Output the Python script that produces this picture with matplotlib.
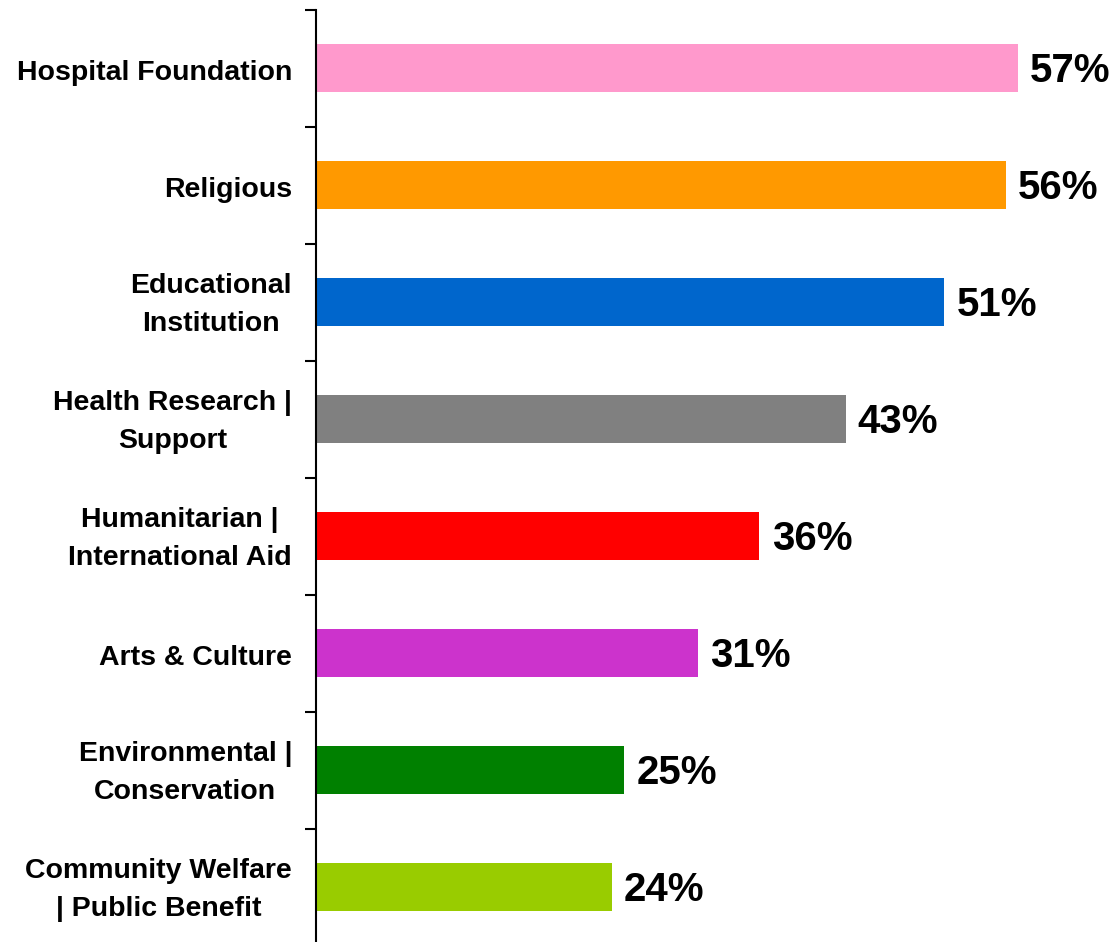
import matplotlib
matplotlib.use('Agg')
import matplotlib.pyplot as plt
import matplotlib.transforms as mtransforms

categories = [
    'Hospital Foundation',
    'Religious',
    'Educational\nInstitution',
    'Health Research |\nSupport',
    'Humanitarian |\nInternational Aid',
    'Arts & Culture',
    'Environmental |\nConservation',
    'Community Welfare\n| Public Benefit',
]
values = [57, 56, 51, 43, 36, 31, 25, 24]
colors = ['#FF99CC', '#FF9900', '#0066CC', '#808080',
          '#FF0000', '#CC33CC', '#008000', '#99CC00']

plt.rcParams['font.family'] = ['Liberation Sans', 'DejaVu Sans']

fig = plt.figure(figsize=(11.14, 9.42), dpi=100)
ax = fig.add_axes([0.2837, -0.004, 0.7163, 0.9934])

pos = list(range(len(categories)))
ax.barh(pos, values, height=0.41, color=colors)

for y, v in zip(pos, values):
    ax.text(v + 1.0, y + 0.02, f'{v}%', va='center', ha='left',
            fontsize=29, fontweight='bold')

ax.set_ylim(len(categories) - 0.5, -0.5)
ax.set_xlim(0, 64.8)

# category names to the left of the axis, centred on each bar
label_trans = ax.get_yaxis_transform()
for y, name in zip(pos, categories):
    dy = -3 if '\n' in name else -5
    tr = mtransforms.offset_copy(label_trans, fig=fig, x=-24, y=dy,
                                 units='dots')
    ax.text(0, y, name, transform=tr, ha='right', va='center', ma='center',
            fontsize=20.5, fontweight='bold', linespacing=1.6)

# ticks sit between the categories
ax.set_yticks([p - 0.5 for p in pos] + [len(pos) - 0.5])
ax.set_yticklabels([])
ax.tick_params(axis='y', which='major', length=8, width=1.5, direction='out')

ax.set_xticks([])
for side in ['top', 'right', 'bottom']:
    ax.spines[side].set_visible(False)
ax.spines['left'].set_linewidth(1.5)

plt.savefig('out.png', dpi=100)
